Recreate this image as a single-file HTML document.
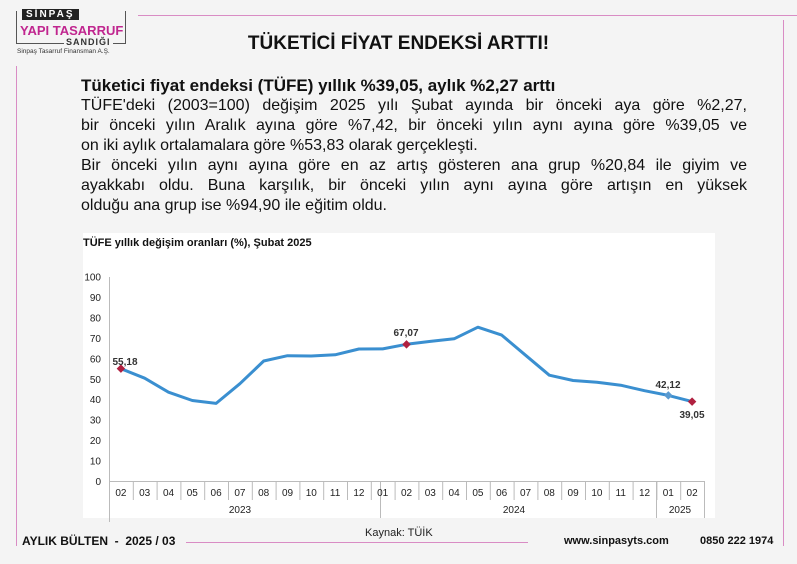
<!DOCTYPE html>
<html><head><meta charset="utf-8"><style>
body{margin:0;width:797px;height:564px;background:#f4f4f4;font-family:"Liberation Sans",sans-serif;position:relative;overflow:hidden}
.a{position:absolute;white-space:nowrap}
p{margin:0;text-align:justify;text-align-last:justify}
p.l{text-align-last:left}
</style></head><body>
<div class="a" style="left:138px;top:15px;width:659px;height:1px;background:#d98cc4"></div>
<div class="a" style="left:16px;top:66px;width:1px;height:480px;background:#d98cc4"></div>
<div class="a" style="left:783px;top:20px;width:1px;height:526px;background:#d98cc4"></div>
<div class="a" style="left:16px;top:11px;width:108px;height:32px;border:1px solid #555;border-top:none"></div>
<div class="a" style="left:22px;top:9px;background:#222;color:#fff;font-weight:bold;font-size:10px;padding:0 4px;letter-spacing:2px">SİNPAŞ</div>
<div class="a" style="left:20px;top:23px;color:#c0268f;font-weight:bold;font-size:13px">YAPI TASARRUF</div>
<div class="a" style="left:64px;top:37px;background:#f4f4f4;color:#333;font-weight:bold;font-size:9px;padding:0 2px;letter-spacing:1px">SANDIĞI</div>
<div class="a" style="left:17px;top:48px;color:#333;font-size:6.5px">Sinpaş Tasarruf Finansman A.Ş.</div>
<div class="a" style="left:0;width:797px;top:33px;text-align:center;font-weight:bold;font-size:19px;color:#111">TÜKETİCİ FİYAT ENDEKSİ ARTTI!</div>
<div class="a" style="left:81px;top:76px;font-size:16px;line-height:20px;color:#111;white-space:normal;width:666px">
<p class="l" style="font-weight:bold;font-size:17px">Tüketici fiyat endeksi (TÜFE) yıllık %39,05, aylık %2,27 arttı</p>
<p>TÜFE'deki (2003=100) değişim 2025 yılı Şubat ayında bir önceki aya göre %2,27,</p>
<p>bir önceki yılın Aralık ayına göre %7,42, bir önceki yılın aynı ayına göre %39,05 ve</p>
<p class="l">on iki aylık ortalamalara göre %53,83 olarak gerçekleşti.</p>
<p>Bir önceki yılın aynı ayına göre en az artış gösteren ana grup %20,84 ile giyim ve</p>
<p>ayakkabı oldu. Buna karşılık, bir önceki yılın aynı ayına göre artışın en yüksek</p>
<p class="l">olduğu ana grup ise %94,90 ile eğitim oldu.</p>
</div>
<svg class="a" style="left:0;top:0" width="797" height="564" font-family="Liberation Sans, sans-serif">
<rect x="83" y="233" width="632" height="285" fill="#fff"/>
<text x="83" y="246" font-size="11" font-weight="bold" fill="#111">TÜFE yıllık değişim oranları (%), Şubat 2025</text>
<g stroke="#bbb" stroke-width="1">
<line x1="109.5" y1="277" x2="109.5" y2="522"/>
<line x1="109" y1="481.5" x2="704" y2="481.5"/>
<line x1="704.5" y1="481" x2="704.5" y2="518"/>
<line x1="380.5" y1="481" x2="380.5" y2="518"/>
<line x1="656.5" y1="481" x2="656.5" y2="518"/>
</g>
<g font-size="10" fill="#222" text-anchor="end" id="yl"></g>
<g id="xl" font-size="10" fill="#222" text-anchor="middle"></g>
<text x="240" y="513" font-size="10" fill="#222" text-anchor="middle">2023</text>
<text x="514" y="513" font-size="10" fill="#222" text-anchor="middle">2024</text>
<text x="680" y="513" font-size="10" fill="#222" text-anchor="middle">2025</text>
<polyline id="ln" fill="none" stroke="#3a8fd0" stroke-width="3" stroke-linejoin="round"/>
<g id="mk"></g>
<g font-size="10" font-weight="bold" fill="#333" text-anchor="middle">
<text x="125" y="365">55,18</text>
<text x="406" y="336">67,07</text>
<text x="668" y="388">42,12</text>
<text x="692" y="418">39,05</text>
</g>
</svg>
<script>
var v=[55.18,50.51,43.68,39.59,38.21,47.83,58.94,61.53,61.36,61.98,64.77,64.86,67.07,68.50,69.80,75.45,71.60,61.78,51.97,49.38,48.58,47.09,44.38,42.12,39.05];
var lab=["02","03","04","05","06","07","08","09","10","11","12","01","02","03","04","05","06","07","08","09","10","11","12","01","02"];
var ns="http://www.w3.org/2000/svg",pts=[],xl=document.getElementById('xl'),yl=document.getElementById('yl');
function X(i){return 120.9+23.8*i}function Y(a){return 481.5-a*2.045}
v.forEach(function(a,i){pts.push(X(i).toFixed(1)+","+Y(a).toFixed(1));
var t=document.createElementNS(ns,'text');t.setAttribute('x',X(i));t.setAttribute('y',496);t.textContent=lab[i];xl.appendChild(t);
if(i<24){var l=document.createElementNS(ns,'line');l.setAttribute('x1',109.5+23.8*(i+1));l.setAttribute('x2',109.5+23.8*(i+1));l.setAttribute('y1',481);l.setAttribute('y2',500);l.setAttribute('stroke','#bbb');xl.appendChild(l);}});
document.getElementById('ln').setAttribute('points',pts.join(' '));
for(var k=0;k<=10;k++){var t=document.createElementNS(ns,'text');t.setAttribute('x',101);t.setAttribute('y',Y(k*10)+3.5);t.textContent=k*10;yl.appendChild(t);}
[[0,'#b02040'],[12,'#b02040'],[23,'#5a9ad0'],[24,'#b02040']].forEach(function(m){var r=document.createElementNS(ns,'rect');var x=X(m[0]),y=Y(v[m[0]]);r.setAttribute('x',x-3);r.setAttribute('y',y-3);r.setAttribute('width',6);r.setAttribute('height',6);r.setAttribute('fill',m[1]);r.setAttribute('transform','rotate(45 '+x+' '+y+')');document.getElementById('mk').appendChild(r);});
</script>
<div class="a" style="left:365px;top:527px;font-size:11px;color:#222">Kaynak: TÜİK</div>
<div class="a" style="left:22px;top:534px;font-size:12px;font-weight:bold;color:#111">AYLIK BÜLTEN &nbsp;- &nbsp;2025 / 03</div>
<div class="a" style="left:186px;top:542px;width:342px;height:1px;background:#d98cc4"></div>
<div class="a" style="left:564px;top:535px;font-size:11px;font-weight:bold;color:#111">www.sinpasyts.com</div>
<div class="a" style="left:700px;top:535px;font-size:11px;font-weight:bold;color:#111">0850 222 1974</div>
</body></html>
